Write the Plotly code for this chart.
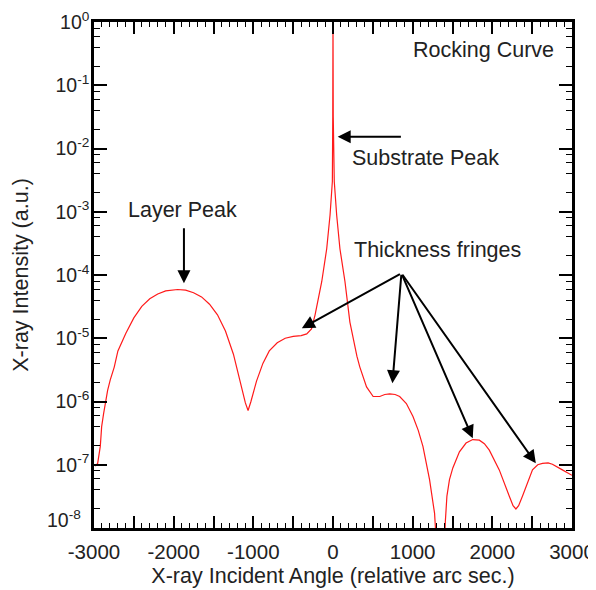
import plotly.graph_objects as go

# Rocking curve data (angle in arc sec, intensity a.u.)
angle = [-2985, -2954, -2921, -2904, -2879, -2858, -2829, -2796, -2746, -2700, -2600, -2500,
         -2400, -2300, -2200, -2100, -2000, -1950, -1850, -1750, -1650, -1550, -1450, -1350,
         -1250, -1170, -1100, -1066, -1030, -960, -880, -800, -700, -600, -500, -400, -330,
         -270, -225, -141, -79, -37, -8, -3, 0, 3, 16, 46, 87, 150, 212, 254, 300, 337, 421,
         504, 587, 650, 712, 780, 837, 921, 1004, 1070, 1129, 1212, 1275, 1300, 1340, 1400,
         1410, 1430, 1462, 1504, 1587, 1670, 1754, 1837, 1900, 1962, 2087, 2212, 2260, 2296,
         2330, 2379, 2450, 2504, 2570, 2629, 2700, 2754, 2879, 2983, 3000]
intensity = [9.5e-8, 1.05e-7, 1.95e-7, 4.0e-7, 6.5e-7, 9.3e-7, 1.5e-6, 2.2e-6, 3.5e-6, 6.3e-6,
             1.2e-5, 2.1e-5, 3.2e-5, 4.2e-5, 5.0e-5, 5.6e-5, 5.9e-5, 5.9e-5, 5.75e-5, 5.25e-5,
             4.5e-5, 3.45e-5, 2.35e-5, 1.3e-5, 5.6e-6, 2.1e-6, 9.5e-7, 7.2e-7, 1.0e-6, 2.1e-6,
             4.0e-6, 6.3e-6, 8.5e-6, 1.0e-5, 1.07e-5, 1.1e-5, 1.17e-5, 1.4e-5, 2.35e-5, 7.9e-5,
             2.6e-4, 8.9e-4, 3.0e-3, 3.2e-2, 1.0, 3.2e-2, 3.0e-3, 8.9e-4, 2.6e-4, 7.9e-5, 1.8e-5,
             9.3e-6, 5.2e-6, 3.5e-6, 1.7e-6, 1.2e-6, 1.2e-6, 1.29e-6, 1.32e-6, 1.29e-6, 1.2e-6,
             9.3e-7, 5.8e-7, 3.5e-7, 1.95e-7, 5.8e-8, 1.7e-8, 5.0e-9, 1.0e-9, 5.0e-9,
             1.26e-8, 3.2e-8, 5.8e-8, 8.9e-8, 1.6e-7, 2.2e-7, 2.5e-7, 2.45e-7, 2.15e-7, 1.7e-7,
             8.3e-8, 3.2e-8, 2.25e-8, 2.0e-8, 2.25e-8, 3.2e-8, 5.6e-8, 8.3e-8, 1.0e-7, 1.05e-7,
             1.07e-7, 1.02e-7, 8.3e-8, 6.9e-8, 6.8e-8]

x_tickvals = [-3000, -2500, -2000, -1500, -1000, -500, 0, 500, 1000, 1500, 2000, 2500, 3000]
x_ticktext = ["-3000", "", "-2000", "", "-1000", "", "0", "", "1000", "", "2000", "", "3000"]
y_exponents = [0, -1, -2, -3, -4, -5, -6, -7]
y_minor_digits = [2, 4, 6, 8]

FONT = "Liberation Sans, Arial, Helvetica, sans-serif"
TXT = "#222222"
FS_X = 20.5
FS_Y = 19.5
FS_TXT = 21.5

y_tickvals = [10.0 ** e for e in y_exponents]
y_ticktext = ["10<sup>%d</sup>" % e for e in y_exponents]
y_minor = [d * 10.0 ** e for e in range(-8, 0) for d in y_minor_digits]

fig = go.Figure()
fig.add_trace(go.Scatter(x=angle, y=intensity, mode="lines",
                         line=dict(color="#ff1a1a", width=1.2), showlegend=False,
                         hoverinfo="skip"))

# page body adds ~8px offset, so the figure is slightly smaller than the window
fig.update_layout(
    width=588, height=582,
    margin=dict(l=86, r=24, t=14, b=62),
    paper_bgcolor="white", plot_bgcolor="white",
    font=dict(family=FONT, size=FS_X, color=TXT),
    xaxis=dict(range=[-3000, 3000], tickmode="array", tickvals=x_tickvals, ticktext=x_ticktext,
               ticks="inside", ticklen=12, tickwidth=1.5, tickcolor="black",
               showline=True, linewidth=2.5, linecolor="black", mirror="allticks",
               showgrid=False, zeroline=False, automargin=False, ticklabelstandoff=4,
               ticklabeloverflow="allow",
               minor=dict(dtick=100, ticks="inside", ticklen=5, tickwidth=1.3,
                          tickcolor="black", showgrid=False),
               title=dict(text="X-ray Incident Angle (relative arc sec.)", standoff=6,
                          font=dict(size=FS_TXT)),
               tickfont=dict(size=FS_X)),
    yaxis=dict(type="log", range=[-8, 0], tickmode="array", tickvals=y_tickvals,
               ticktext=y_ticktext,
               ticks="inside", ticklen=13, tickwidth=1.5, tickcolor="black",
               showline=True, linewidth=2.5, linecolor="black", mirror="allticks",
               showgrid=False, zeroline=False, automargin=False, ticklabelstandoff=-2,
               ticklabeloverflow="allow",
               minor=dict(tickmode="array", tickvals=y_minor, ticks="inside", ticklen=6,
                          tickwidth=1.3, tickcolor="black", showgrid=False),
               title=dict(text="X-ray Intensity (a.u.)", standoff=21, font=dict(size=FS_TXT)),
               tickfont=dict(size=FS_Y)),
)

arrow_style = dict(showarrow=True, arrowhead=2, arrowsize=1.3, arrowwidth=2,
                   arrowcolor="black", axref="x", ayref="y", xref="x", yref="y")

annotations = [
    # 10^-8 tick label, nudged up like the original
    dict(text="10<sup>-8</sup>", xref="paper", x=0, xanchor="right", xshift=-11,
         yref="y", y=-8, yanchor="middle", yshift=9, showarrow=False,
         font=dict(size=FS_Y)),
    dict(text="Rocking Curve", xref="x", yref="y", x=2800, y=-0.443, xanchor="right",
         yanchor="middle", showarrow=False, font=dict(size=FS_TXT)),
    dict(text="Layer Peak", xref="x", yref="y", x=-1887, y=-2.97, xanchor="center",
         yanchor="middle", showarrow=False, font=dict(size=FS_TXT)),
    dict(text="Substrate Peak", xref="x", yref="y", x=212, y=-2.15, xanchor="left",
         yanchor="middle", showarrow=False, font=dict(size=FS_TXT)),
    dict(text="Thickness fringes", xref="x", yref="y", x=1312, y=-3.60, xanchor="center",
         yanchor="middle", showarrow=False, font=dict(size=FS_TXT)),
    dict(text="", x=-1871, y=-4.13, ax=-1871, ay=-3.236, **arrow_style),
    dict(text="", x=59, y=-1.813, ax=871, ay=-1.813, **arrow_style),
    dict(text="", x=-391, y=-4.843, ax=859, ay=-3.973, **arrow_style),
    dict(text="", x=746, y=-5.712, ax=859, ay=-3.973, **arrow_style),
    dict(text="", x=1754, y=-6.582, ax=859, ay=-3.973, **arrow_style),
    dict(text="", x=2546, y=-6.977, ax=859, ay=-3.973, **arrow_style),
]
fig.update_layout(annotations=annotations)

fig.write_html("out.html")
